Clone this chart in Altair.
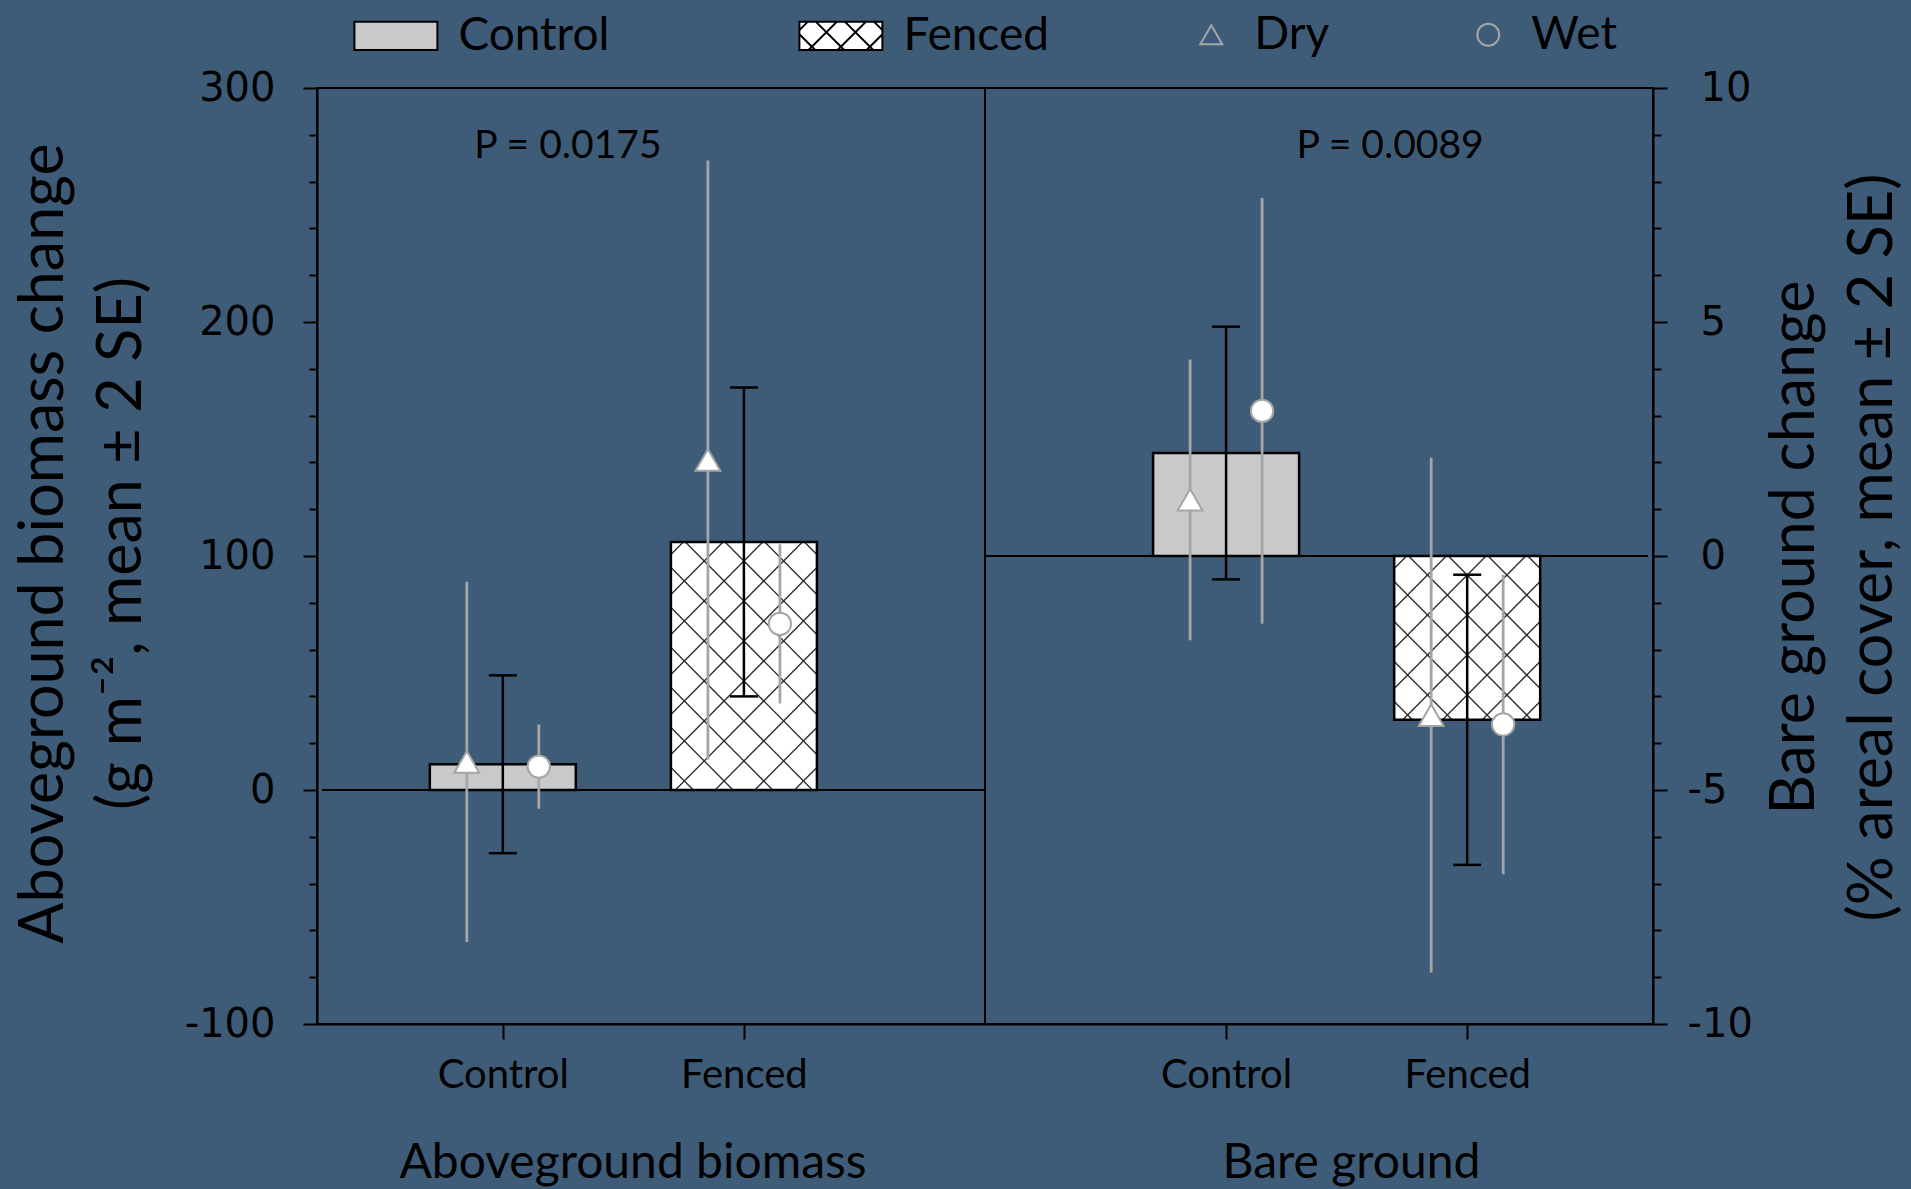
import altair as alt
import numpy as np
import pandas as pd

# ---------------- values ----------------
groups = ["Aboveground biomass", "Bare ground"]
categories = ["Control", "Fenced"]
sites = ["Dry", "Wet"]

biomass_mean = [11, 106]
biomass_err = [38, 66]
biomass_dry = [12, 141]
biomass_dry_err = [77, 128]
biomass_wet = [10, 71]
biomass_wet_err = [18, 34]

bare_mean = [2.2, -3.5]
bare_err = [2.7, 3.1]
bare_dry = [1.2, -3.4]
bare_dry_err = [3.0, 5.5]
bare_wet = [3.1, -3.6]
bare_wet_err = [4.55, 3.2]

p_labels = ["P = 0.0175", "P = 0.0089"]
left_title = ["Aboveground biomass change", "(g m\u207b\u00b2, mean \u00b1 2 SE)"]
right_title = ["Bare ground change", "(% areal cover, mean \u00b1 2 SE)"]

# ---------------- layout / style ----------------
W, H = 1336, 936
PAD = {"left": 317, "top": 88, "right": 1911 - 317 - W, "bottom": 1189 - 88 - H}
X_DOM = [0.25, 5.75]
PX_X = W / (X_DOM[1] - X_DOM[0])
LEFT_DOM = [-100, 300]
RIGHT_DOM = [-10, 10]
BAR_W = 146
SITE_OFF = 36
CAP_HALF = 14
BG = "#3E5C78"
GRAY = "#A5A5A5"
BAR_GRAY = "#C8C9CB"
BAR_FILL = {"Control": BAR_GRAY, "Fenced": "white"}
HATCHED = "Fenced"
LABEL_FONT = "Lato"
TICK_FONT = "DejaVu Sans"


def pos_of(gi, ci):
    return 3 * gi + ci + 1


def hatch_lines(w, h, spacing, phase=0.0):
    segs = []
    for c in np.arange(-w + phase, h, spacing):
        u0, u1 = max(0.0, -c), min(w, h - c)
        if u1 - u0 > 1e-6:
            segs.append((u0, u0 + c, u1, u1 + c))
    for c in np.arange(phase, w + h, spacing):
        u0, u1 = max(0.0, c - h), min(w, c)
        if u1 - u0 > 1e-6:
            segs.append((u0, c - u0, u1, c - u1))
    return segs


def panel_frame(gi, mean, err, dry, dry_err, wet, wet_err):
    rows = []
    for ci, cat in enumerate(categories):
        rows.append(dict(
            cat=cat, pos=pos_of(gi, ci), zero=0, fill=BAR_FILL[cat],
            mean=mean[ci], lo=mean[ci] - err[ci], hi=mean[ci] + err[ci],
            dry=dry[ci], dry_lo=dry[ci] - dry_err[ci], dry_hi=dry[ci] + dry_err[ci],
            wet=wet[ci], wet_lo=wet[ci] - wet_err[ci], wet_hi=wet[ci] + wet_err[ci],
        ))
    return pd.DataFrame(rows)


def hatch_frame(df, dom):
    px_y = H / (dom[1] - dom[0])
    rows = []
    for _, r in df[df["cat"] == HATCHED].iterrows():
        h = abs(r["mean"]) * px_y
        top = max(r["mean"], 0)
        left = r["pos"] - (BAR_W / 2) / PX_X
        for u0, v0, u1, v1 in hatch_lines(BAR_W, h, 40, 12):
            rows.append(dict(hx=left + u0 / PX_X, hy=top - v0 / px_y,
                             hx2=left + u1 / PX_X, hy2=top - v1 / px_y))
    return pd.DataFrame(rows)


x_scale = alt.Scale(domain=X_DOM, nice=False, zero=False)
x_axis = alt.Axis(
    values=[pos_of(g, c) for g in range(len(groups)) for c in range(len(categories))],
    labelExpr="[" + ",".join(f"'{c}'" for c in categories) + "][(datum.value - 1) % 3]",
    title=None, grid=False, tickSize=15, tickWidth=2, tickColor="black",
    domainColor="black", domainWidth=2, labelFont=LABEL_FONT, labelFontSize=40,
    labelColor="black", labelPadding=36, labelBaseline="middle",
    labelFlush=False, labelOverlap=False,
)


def X(f):
    return alt.X(f"{f}:Q", scale=x_scale, axis=x_axis)


def X2(f):
    return alt.X2(f"{f}:Q")


def make_y_axis(orient, dom, major, minor, title, pad, title_x, title_y):
    return alt.Axis(
        orient=orient,
        values=list(range(dom[0], dom[1] + 1, minor)),
        labelExpr=f"datum.value % {major} === 0 ? '' + datum.value : ''",
        tickSize={"condition": {"test": f"datum.value % {major} === 0", "value": 14}, "value": 8},
        tickWidth=2, tickColor="black", domainColor="black", domainWidth=2,
        grid=False, labelFont=TICK_FONT, labelFontSize=40, labelColor="black",
        labelPadding=pad, labelFlush=False, labelOverlap=False,
        title=title, titleFont=LABEL_FONT, titleFontSize=61, titleFontWeight="normal",
        titleColor="black", titleAngle=270, titleBaseline="middle", titleAlign="center",
        titleLineHeight=78, titleX=title_x, titleY=title_y,
    )


left_axis = make_y_axis("left", LEFT_DOM, 100, 20, left_title, 28, -273, 455)
right_axis = make_y_axis(
    "right", RIGHT_DOM, 5, 1, right_title,
    {"condition": {"test": "datum.value < 0", "value": 20}, "value": 33},
    142, 459,
)


def panel(gi, df, dom, axis, p_label, p_x, p_y, g_x):
    yscale = alt.Scale(domain=dom, nice=False, zero=False)

    def Y(f):
        return alt.Y(f"{f}:Q", scale=yscale, axis=axis)

    def Y2(f):
        return alt.Y2(f"{f}:Q")

    base = alt.Chart(df)
    bars = base.mark_bar(size=BAR_W).encode(
        x=X("pos"), y=Y("mean"), y2=Y2("zero"), fill=alt.Fill("fill:N", scale=None))
    hatch = alt.Chart(hatch_frame(df, dom)).mark_rule(color="#2b2b2b", strokeWidth=1.3).encode(
        x=X("hx"), x2=X2("hx2"), y=Y("hy"), y2=Y2("hy2"))
    outline = base.mark_bar(size=BAR_W, fillOpacity=0, stroke="black", strokeWidth=2.5).encode(
        x=X("pos"), y=Y("mean"), y2=Y2("zero"))
    start = X_DOM[0] if gi == 0 else 3 * gi
    end = 3 * (gi + 1) if gi == 0 else X_DOM[1]
    zero_line = alt.Chart(pd.DataFrame({"x0": [start], "x1": [end], "zero": [0]})).mark_rule(
        color="black", strokeWidth=2).encode(x=X("x0"), x2=X2("x1"), y=Y("zero"))
    dry_err = base.mark_rule(color=GRAY, strokeWidth=2.8, xOffset=-SITE_OFF).encode(
        x=X("pos"), y=Y("dry_lo"), y2=Y2("dry_hi"))
    wet_err = base.mark_rule(color=GRAY, strokeWidth=2.8, xOffset=SITE_OFF).encode(
        x=X("pos"), y=Y("wet_lo"), y2=Y2("wet_hi"))
    err = base.mark_rule(color="black", strokeWidth=2.5).encode(
        x=X("pos"), y=Y("lo"), y2=Y2("hi"))
    cap_lo = base.mark_rule(color="black", strokeWidth=2.5, xOffset=-CAP_HALF, x2Offset=CAP_HALF).encode(
        x=X("pos"), x2=X2("pos"), y=Y("lo"))
    cap_hi = base.mark_rule(color="black", strokeWidth=2.5, xOffset=-CAP_HALF, x2Offset=CAP_HALF).encode(
        x=X("pos"), x2=X2("pos"), y=Y("hi"))
    dry_pts = base.mark_point(shape="triangle-up", size=620, filled=True, fill="white",
                              stroke=GRAY, strokeWidth=2, opacity=1, xOffset=-SITE_OFF).encode(
        x=X("pos"), y=Y("dry"))
    wet_pts = base.mark_point(shape="circle", size=500, filled=True, fill="white",
                              stroke=GRAY, strokeWidth=2, opacity=1, xOffset=SITE_OFF).encode(
        x=X("pos"), y=Y("wet"))
    ptxt = alt.Chart(pd.DataFrame({"t": [p_label], "px": [p_x], "py": [p_y]})).mark_text(
        font=LABEL_FONT, fontSize=39, color="black", align="center", baseline="alphabetic").encode(
        x=X("px"), y=Y("py"), text="t:N")
    gtxt = alt.Chart(pd.DataFrame({"t": [groups[gi]], "gx": [g_x]})).mark_text(
        font=LABEL_FONT, fontSize=48, color="black", align="center", baseline="alphabetic").encode(
        x=X("gx"), y=alt.value(H + 154), text="t:N")
    layers = [bars, hatch, outline, zero_line, dry_err, wet_err, err, cap_lo, cap_hi,
              dry_pts, wet_pts, ptxt, gtxt]
    if gi == 1:
        divider = alt.Chart(pd.DataFrame({"d": [3 * gi]})).mark_rule(
            color="black", strokeWidth=2).encode(x=X("d"))
        layers.append(divider)
    return alt.layer(*layers)


df_bio = panel_frame(0, biomass_mean, biomass_err, biomass_dry, biomass_dry_err,
                     biomass_wet, biomass_wet_err)
df_bare = panel_frame(1, bare_mean, bare_err, bare_dry, bare_dry_err, bare_wet, bare_wet_err)

left = panel(0, df_bio, LEFT_DOM, left_axis, p_labels[0], 1.27, 270, 1.54)
right = panel(1, df_bare, RIGHT_DOM, right_axis, p_labels[1], 4.68, 8.5, 4.52)

# ---------------- legends ----------------
SW_H = 0.34
rect_path = f"M-1,-{SW_H}H1V{SW_H}H-1Z"
hatch_path = rect_path + "".join(
    f"M{-1 + u0:.3f},{-SW_H + v0:.3f}L{-1 + u1:.3f},{-SW_H + v1:.3f}"
    for u0, v0, u1, v1 in hatch_lines(2.0, 2 * SW_H, 0.7, 0.2))

bar_legend = alt.Legend(
    orient="none", legendX=36.4, legendY=-94.8, direction="horizontal", title=None,
    labelFont=LABEL_FONT, labelFontSize=46, labelColor="black", labelLimit=500,
    symbolSize=83 ** 2, symbolStrokeWidth=2, symbolStrokeColor="black",
    labelOffset=20, columnPadding=186, padding=0,
)
bar_leg = alt.Chart(pd.DataFrame({"k": categories})).transform_filter("false").mark_point(
    filled=True, stroke="black", strokeWidth=2, opacity=1).encode(
    fill=alt.Fill("k:N", scale=alt.Scale(domain=categories, range=[BAR_FILL[c] for c in categories]),
                  legend=bar_legend),
    stroke=alt.Stroke("k:N", scale=alt.Scale(domain=categories, range=["black", "black"]),
                      legend=bar_legend),
    shape=alt.Shape("k:N", scale=alt.Scale(domain=categories, range=[rect_path, hatch_path]),
                    legend=bar_legend),
)

pt_legend = alt.Legend(
    orient="none", legendX=871.3, legendY=-76.3, direction="horizontal", title=None,
    labelFont=LABEL_FONT, labelFontSize=46, labelColor="black", labelLimit=500,
    symbolSize=480, symbolStrokeWidth=2, symbolStrokeColor=GRAY, symbolFillColor="transparent",
    labelOffset=20, columnPadding=136, padding=0,
)
pt_leg = alt.Chart(pd.DataFrame({"s": sites})).transform_filter("false").mark_point(
    filled=False, stroke=GRAY, strokeWidth=2, opacity=1, size=480).encode(
    shape=alt.Shape("s:N", scale=alt.Scale(domain=sites, range=["triangle-up", "circle"]),
                    legend=pt_legend),
)

chart = alt.layer(left, right, bar_leg, pt_leg).resolve_scale(
    y="independent", shape="independent", fill="independent", stroke="independent"
).properties(
    width=W, height=H, background=BG, padding=PAD,
    autosize=alt.AutoSizeParams(type="none"),
).configure_view(stroke="black", strokeWidth=2)

chart.save("out.html", embed_options={"renderer": "svg", "actions": False})
